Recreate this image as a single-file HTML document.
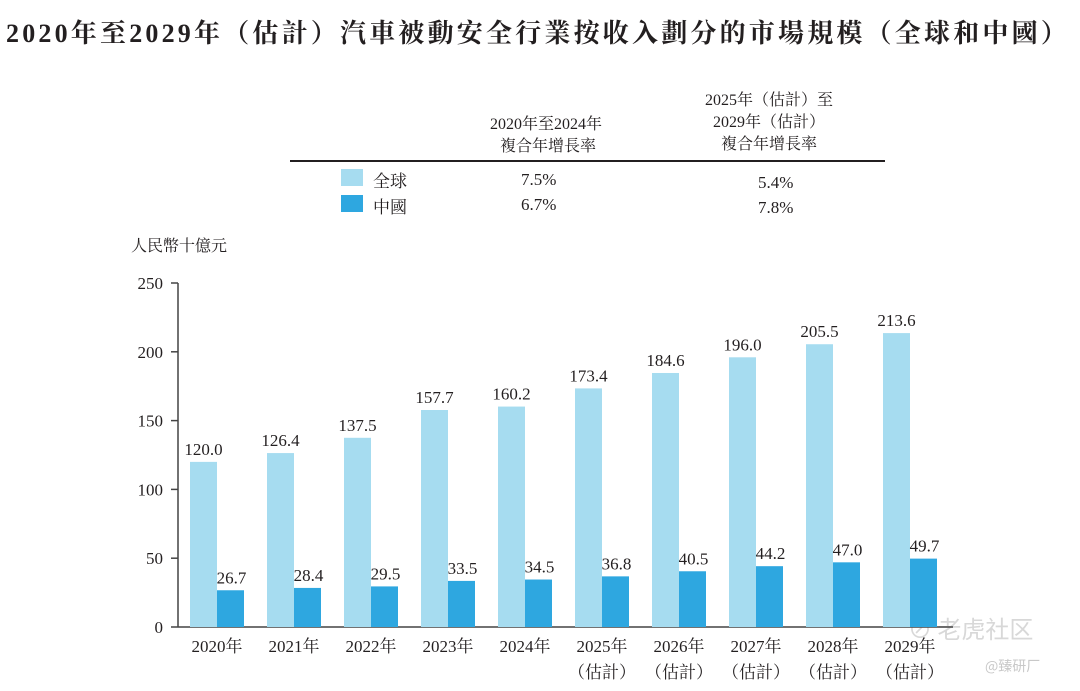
<!DOCTYPE html>
<html><head><meta charset="utf-8"><style>
body{margin:0;background:#fff;width:1080px;height:691px;overflow:hidden;font-family:"Liberation Serif","Noto Serif CJK SC","Noto Sans CJK TC",serif;color:#231f20}
.t{position:absolute;white-space:nowrap}
</style></head><body>
<div class="t" style="left:6px;top:13px;font-size:26px;font-weight:bold;letter-spacing:3.2px">2020年至2029年（估計）汽車被動安全行業按收入劃分的市場規模（全球和中國）</div>
<div class="t" style="left:490px;top:114px;font-size:16px;text-align:center;line-height:22px">2020年至2024年<br>&nbsp;複合年增長率</div>
<div class="t" style="left:705px;top:90px;font-size:16px;text-align:center;line-height:22px">2025年（估計）至<br>2029年（估計）<br>複合年增長率</div>
<div style="position:absolute;left:290px;top:160px;width:595px;height:1.5px;background:#231f20"></div>
<div style="position:absolute;left:341px;top:169px;width:22px;height:17px;background:#a6dcf0"></div>
<div class="t" style="left:373px;top:167px;font-size:17px">全球</div>
<div style="position:absolute;left:341px;top:195px;width:22px;height:17px;background:#2ea7e0"></div>
<div class="t" style="left:373px;top:193px;font-size:17px">中國</div>
<div class="t" style="left:521px;top:170px;font-size:17px">7.5%</div>
<div class="t" style="left:521px;top:195px;font-size:17px">6.7%</div>
<div class="t" style="left:758px;top:173px;font-size:17px">5.4%</div>
<div class="t" style="left:758px;top:198px;font-size:17px">7.8%</div>
<div class="t" style="left:131px;top:233px;font-size:16px">人民幣十億元</div>
<div class="t" style="left:908px;top:610px;font-size:24px;color:#d8d8d8;font-family:'Noto Sans CJK SC',sans-serif">⊘ 老虎社区</div>
<div class="t" style="left:985px;top:656px;font-size:14px;color:#c8c8c8;font-family:'Noto Sans CJK SC',sans-serif">@臻研厂</div>
<svg id="c" width="1080" height="691" style="position:absolute;left:0;top:0"></svg>
<script>
const categories=["2020年","2021年","2022年","2023年","2024年","2025年","2026年","2027年","2028年","2029年"];
const estimated=[false,false,false,false,false,true,true,true,true,true];
const globalValues=[120.0,126.4,137.5,157.7,160.2,173.4,184.6,196.0,205.5,213.6];
const chinaValues=[26.7,28.4,29.5,33.5,34.5,36.8,40.5,44.2,47.0,49.7];
const yTicks=[0,50,100,150,200,250];
const svg=document.getElementById('c');const NS='http://www.w3.org/2000/svg';
const y0=627,yTop=283,yMax=250;
function y(v){return y0-(v/yMax)*(y0-yTop);}
function xc(i){return 217+77*i;}
const bw=27;
function mk(t,a){const e=document.createElementNS(NS,t);for(const k in a)e.setAttribute(k,a[k]);svg.appendChild(e);return e;}
function txt(x,yy,s,anchor,size){const e=mk('text',{x:x,y:yy,'text-anchor':anchor,'font-size':size,fill:'#231f20','font-family':'"Liberation Serif","Noto Serif CJK SC",serif'});e.textContent=s;return e;}
let ax=mk('line',{x1:178,y1:y0,x2:953,y2:y0,stroke:'#444','stroke-width':1.5});


let ay=mk('line',{x1:178,y1:yTop,x2:178,y2:y0,stroke:'#444','stroke-width':1.5});


yTicks.forEach(v=>{
 let tk=mk('line',{x1:171,y1:y(v),x2:178,y2:y(v),stroke:'#444','stroke-width':1.5});
 
 
 let l=txt(163,y(v)+6,String(v),'end',17);
 
 
});
categories.forEach((c,i)=>{
 const x=xc(i);
 let g=mk('rect',{x:x-bw,y:y(globalValues[i]),width:bw,height:y0-y(globalValues[i]),fill:'#a6dcf0'});
 
 
 let h=mk('rect',{x:x,y:y(chinaValues[i]),width:bw,height:y0-y(chinaValues[i]),fill:'#2ea7e0'});
 
 
 let gl=txt(x-bw/2,y(globalValues[i])-7,globalValues[i].toFixed(1),'middle',17);
 
 
 let cl=txt(x+bw/2+1,y(chinaValues[i])-7,chinaValues[i].toFixed(1),'middle',17);
 
 
 let xl=txt(x,652,c,'middle',17);
 
 
 if(estimated[i]){let el=txt(x,678,'（估計）','middle',17);
 
 }
});
</script>
</body></html>
